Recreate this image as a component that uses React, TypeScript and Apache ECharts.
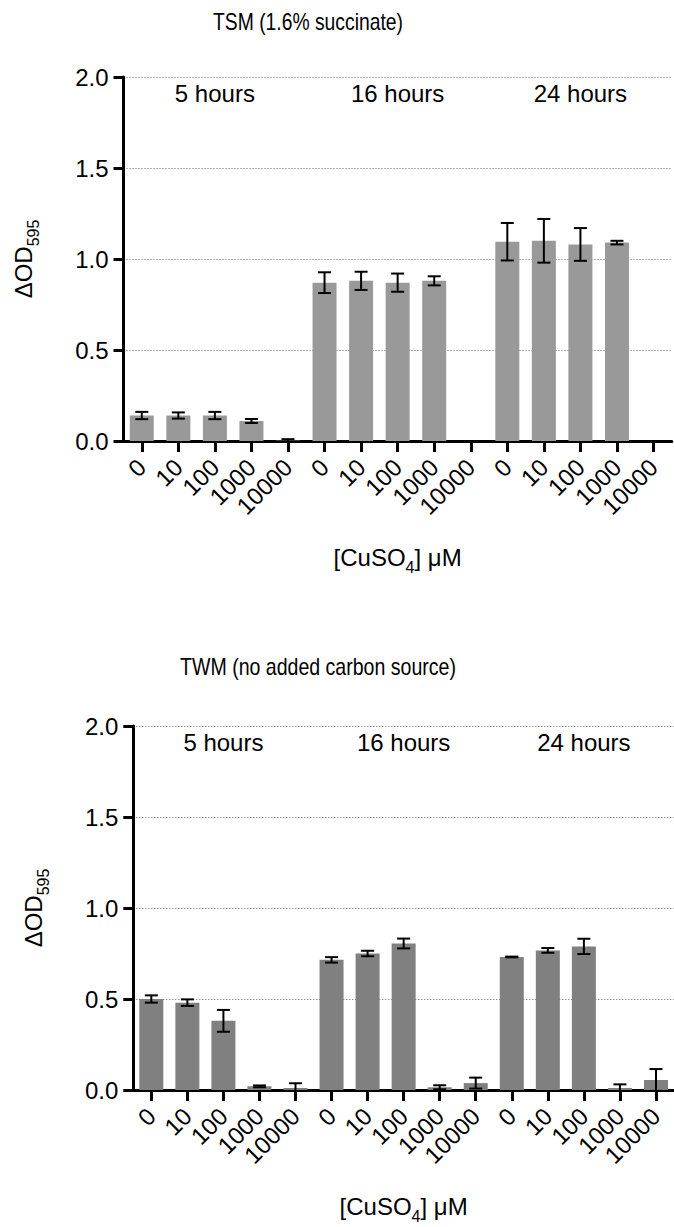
import React, { useEffect, useRef } from "react";
import * as echarts from "echarts";

const concentrations = ["0", "10", "100", "1000", "10000"];
const timeGroups = ["5 hours", "16 hours", "24 hours"];
const yTicks = [0, 0.5, 1.0, 1.5, 2.0];

// TSM (1.6% succinate)
const tsmMeans = [0.14, 0.14, 0.14, 0.11, 0.002, 0.87, 0.88, 0.87, 0.88, null, 1.095, 1.1, 1.08, 1.09, null];
const tsmErrors = [0.02, 0.017, 0.02, 0.011, 0.008, 0.057, 0.05, 0.05, 0.025, null, 0.103, 0.12, 0.09, 0.01, null];

// TWM (no added carbon source)
const twmMeans = [0.5, 0.48, 0.38, 0.02, 0.011, 0.715, 0.75, 0.805, 0.015, 0.038, 0.731, 0.767, 0.789, 0.011, 0.055];
const twmErrors = [0.02, 0.018, 0.06, 0.005, 0.026, 0.015, 0.015, 0.027, 0.011, 0.03, 0.002, 0.013, 0.042, 0.02, 0.06];

const FONT = "'Liberation Sans', Arial, Helvetica, sans-serif";

const categoryKeys: string[] = [];
timeGroups.forEach((g) => concentrations.forEach((c) => categoryKeys.push(g + "|" + c)));
const groupLabelKeys = [categoryKeys[2], categoryKeys[7], categoryKeys[12]];

function errorData(means: (number | null)[], errs: (number | null)[]) {
  const out: any[] = [];
  means.forEach((m, i) => {
    const e = errs[i];
    if (m !== null && e !== null) out.push([i, m, e]);
  });
  return out;
}

function renderError(params: any, api: any) {
  const x = api.value(0);
  const y = api.value(1);
  const e = api.value(2);
  const top = api.coord([x, y + e]);
  const bot = api.coord([x, y - e]);
  const half = 6.5;
  const style = { stroke: "#000", lineWidth: 2 };
  return {
    type: "group",
    children: [
      { type: "line", shape: { x1: top[0], y1: top[1], x2: bot[0], y2: bot[1] }, style },
      { type: "line", shape: { x1: top[0] - half, y1: top[1], x2: top[0] + half, y2: top[1] }, style },
      { type: "line", shape: { x1: bot[0] - half, y1: bot[1], x2: bot[0] + half, y2: bot[1] }, style },
    ],
  };
}

function xAxisFor(gridIndex: number) {
  return {
    type: "category",
    gridIndex,
    data: categoryKeys,
    boundaryGap: true,
    axisLine: { show: true, onZero: false, lineStyle: { color: "#000", width: 3 } },
    axisTick: { show: true, alignWithLabel: true, length: 11, lineStyle: { color: "#000", width: 3 } },
    axisLabel: {
      interval: 0,
      rotate: 45,
      margin: 22,
      fontSize: 24,
      fontFamily: FONT,
      color: "#000",
      formatter: (v: string) => v.split("|")[1],
    },
    name: "{a|[CuSO}{s|4}{a|] μM}",
    nameLocation: "middle",
    nameGap: 100,
    nameTextStyle: {
      rich: {
        a: { fontSize: 24, fontFamily: FONT, color: "#000", lineHeight: 28, verticalAlign: "bottom" },
        s: { fontSize: 16, fontFamily: FONT, color: "#000", lineHeight: 28, verticalAlign: "bottom", padding: [0, 0, -6, 0] },
      },
    },
    splitLine: { show: false },
  };
}

function yAxisFor(gridIndex: number) {
  return {
    type: "value",
    gridIndex,
    min: 0,
    max: 2,
    interval: 0.5,
    axisLine: { show: true, lineStyle: { color: "#000", width: 3 } },
    axisTick: { show: true, length: 10, lineStyle: { color: "#000", width: 3 } },
    axisLabel: {
      margin: 15,
      fontSize: 24,
      fontFamily: FONT,
      color: "#000",
      formatter: (v: number) => (yTicks.indexOf(v) >= 0 ? v.toFixed(1) : ""),
    },
    splitLine: { show: true, lineStyle: { color: "#666", width: 1, type: [1, 2] } },
    name: "{a|ΔOD}{s|595}",
    nameLocation: "middle",
    nameRotate: 90,
    nameGap: 88,
    nameTextStyle: {
      rich: {
        a: { fontSize: 24, fontFamily: FONT, color: "#000", lineHeight: 28, verticalAlign: "bottom" },
        s: { fontSize: 16, fontFamily: FONT, color: "#000", lineHeight: 28, verticalAlign: "bottom", padding: [0, 0, -6, 0] },
      },
    },
  };
}

function barSeries(idx: number, means: (number | null)[], color: string) {
  return {
    type: "bar",
    xAxisIndex: idx,
    yAxisIndex: idx,
    data: means.map((m) => (m === null ? "-" : m)),
    barWidth: 24,
    itemStyle: { color },
    markPoint: {
      symbol: "circle",
      symbolSize: 0,
      itemStyle: { color: "transparent" },
      label: {
        show: true,
        position: "inside",
        fontSize: 24,
        fontFamily: FONT,
        color: "#000",
        formatter: (p: any) => p.name,
      },
      data: timeGroups.map((g, i) => ({ name: g, coord: [groupLabelKeys[i], 1.91] })),
    },
  };
}

function errSeries(idx: number, means: (number | null)[], errs: (number | null)[]) {
  return {
    type: "custom",
    xAxisIndex: idx,
    yAxisIndex: idx,
    clip: true,
    renderItem: renderError,
    encode: { x: 0, y: 1 },
    data: errorData(means, errs),
    z: 5,
  };
}

export default function App() {
  const ref = useRef<HTMLDivElement>(null);
  useEffect(() => {
    if (!ref.current) return;
    const chart = echarts.init(ref.current, undefined, { renderer: "svg" });
    chart.setOption({
      animation: false,
      backgroundColor: "#fff",
      grid: [
        { left: 123.5, top: 77, width: 548.3, height: 364 },
        { left: 133.3, top: 726, width: 550, height: 364 },
      ],
      xAxis: [xAxisFor(0), xAxisFor(1)],
      yAxis: [yAxisFor(0), yAxisFor(1)],
      graphic: [
        {
          type: "text",
          x: 308,
          y: 22,
          scaleX: 0.84,
          originX: 0,
          style: { text: "TSM (1.6% succinate)", font: `23px ${FONT}`, fill: "#000", textAlign: "center", textVerticalAlign: "middle" },
        },
        {
          type: "text",
          x: 318,
          y: 667,
          scaleX: 0.85,
          style: { text: "TWM (no added carbon source)", font: `23px ${FONT}`, fill: "#000", textAlign: "center", textVerticalAlign: "middle" },
        },
      ],
      series: [
        barSeries(0, tsmMeans, "#999999"),
        errSeries(0, tsmMeans, tsmErrors),
        barSeries(1, twmMeans, "#808080"),
        errSeries(1, twmMeans, twmErrors),
      ],
    });
    return () => chart.dispose();
  }, []);
  return (
    <div
      ref={ref}
      style={{ position: "fixed", left: 0, top: 0, width: 674, height: 1227, background: "#fff" }}
    />
  );
}
